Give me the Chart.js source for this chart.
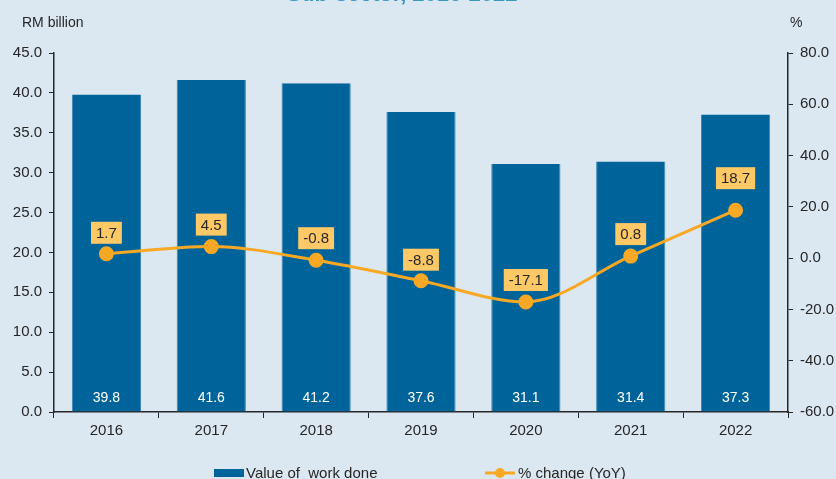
<!DOCTYPE html>
<html>
<head>
<meta charset="utf-8">
<script src="https://cdn.jsdelivr.net/npm/chart.js@4/dist/chart.umd.min.js"></script>
<style>
  html, body { margin: 0; padding: 0; background: #dce8f1; }
  #wrap { width: 836px; height: 479px; position: relative; overflow: hidden; }
</style>
</head>
<body>
<div id="wrap"><canvas id="chart" width="836" height="479"></canvas></div>
<script>
const years = ["2016", "2017", "2018", "2019", "2020", "2021", "2022"];
const workDone = [39.8, 41.6, 41.2, 37.6, 31.1, 31.4, 37.3];
const yoyChange = [1.7, 4.5, -0.8, -8.8, -17.1, 0.8, 18.7];
const leftTicks = [0, 5, 10, 15, 20, 25, 30, 35, 40, 45];
const rightTicks = [-60, -40, -20, 0, 20, 40, 60, 80];

// how far each % label box sits above its point (last one is pushed up)
const labelLift = [21, 22, 22, 21, 22, 22, 32];

const barColor = "#00649a";
const lineColor = "#f8a824";
const labelBox = "#fdc866";
const ink = "#262626";
const font = "'Liberation Sans', Arial, sans-serif";

// labels, legend, axis titles - drawn by hand
const extras = {
  id: "extras",
  afterDatasetsDraw(chart) {
    const ctx = chart.ctx;
    ctx.save();

    // bar values, white at bottom of each bar
    const barMeta = chart.getDatasetMeta(1);
    ctx.font = "14px " + font;
    ctx.fillStyle = "#ffffff";
    ctx.textAlign = "center";
    ctx.textBaseline = "middle";
    barMeta.data.forEach((bar, i) => {
      ctx.fillText(workDone[i].toFixed(1), bar.x, bar.base - 13);
    });

    // line values in orange boxes
    const lineMeta = chart.getDatasetMeta(0);
    ctx.font = "15px " + font;
    lineMeta.data.forEach((pt, i) => {
      const txt = yoyChange[i].toFixed(1);
      const w = ctx.measureText(txt).width + 10;
      const h = 22;
      const cy = pt.y - labelLift[i];
      ctx.fillStyle = labelBox;
      ctx.fillRect(pt.x - w / 2, cy - h / 2, w, h);
      ctx.fillStyle = ink;
      ctx.fillText(txt, pt.x, cy + 1);
    });

    // axis titles
    ctx.font = "14px " + font;
    ctx.fillStyle = ink;
    ctx.textAlign = "left";
    ctx.fillText("RM billion", 22, 23);
    ctx.fillText("%", 790, 23);

    // title (mostly cut off at the top)
    ctx.font = "bold 22px " + font;
    ctx.fillStyle = "#3a97c2";
    ctx.textAlign = "center";
    ctx.textBaseline = "alphabetic";
    ctx.fillText("Sub-sector, 2016-2022", 402, 1);

    // legend
    ctx.textBaseline = "middle";
    ctx.textAlign = "left";
    ctx.font = "15px " + font;
    ctx.fillStyle = barColor;
    ctx.fillRect(214, 469, 30, 8);
    ctx.fillStyle = ink;
    ctx.fillText("Value of  work done", 246, 474);

    ctx.strokeStyle = lineColor;
    ctx.lineWidth = 3;
    ctx.beginPath();
    ctx.moveTo(485, 473);
    ctx.lineTo(515, 473);
    ctx.stroke();
    ctx.fillStyle = lineColor;
    ctx.beginPath();
    ctx.arc(500, 473, 5, 0, Math.PI * 2);
    ctx.fill();
    ctx.fillStyle = ink;
    ctx.fillText("% change (YoY)", 518, 474);

    ctx.restore();
  }
};

new Chart(document.getElementById("chart"), {
  data: {
    labels: years,
    datasets: [
      {
        type: "line",
        label: "% change (YoY)",
        data: yoyChange,
        yAxisID: "y1",
        borderColor: lineColor,
        backgroundColor: lineColor,
        borderWidth: 3,
        pointRadius: 6,
        pointHoverRadius: 6,
        cubicInterpolationMode: "monotone",
        order: 0
      },
      {
        type: "bar",
        label: "Value of  work done",
        data: workDone,
        yAxisID: "y",
        backgroundColor: barColor,
        borderColor: "#3a86b4",
        borderWidth: { top: 0, left: 1, right: 1, bottom: 0 },
        categoryPercentage: 1,
        barPercentage: 0.66,
        order: 1
      }
    ]
  },
  options: {
    responsive: false,
    animation: false,
    layout: { padding: { top: 53, left: 0, right: 0, bottom: 0 } },
    plugins: { legend: { display: false }, tooltip: { enabled: false } },
    scales: {
      x: {
        offset: true,
        grid: { offset: true, drawOnChartArea: false, color: ink, tickLength: 6 },
        border: { color: ink, width: 1.5 },
        ticks: { color: ink, font: { family: font, size: 15 }, padding: 4 },
        afterFit(s) { s.height = 67; }
      },
      y: {
        position: "left",
        min: 0,
        max: 45,
        afterBuildTicks(s) { s.ticks = leftTicks.map(v => ({ value: v })); },
        grid: { drawOnChartArea: false, color: ink, tickLength: 5 },
        border: { color: ink, width: 1.5 },
        ticks: { color: ink, font: { family: font, size: 15 }, padding: 7,
                 callback: v => v.toFixed(1) },
        afterFit(s) { s.width = 54; }
      },
      y1: {
        position: "right",
        min: -60,
        max: 80,
        afterBuildTicks(s) { s.ticks = rightTicks.map(v => ({ value: v })); },
        grid: { drawOnChartArea: false, color: ink, tickLength: 5 },
        border: { color: ink, width: 1.5 },
        ticks: { color: ink, font: { family: font, size: 15 }, padding: 7,
                 callback: v => v.toFixed(1) },
        afterFit(s) { s.width = 48; }
      }
    }
  },
  plugins: [extras]
});
</script>
</body>
</html>
